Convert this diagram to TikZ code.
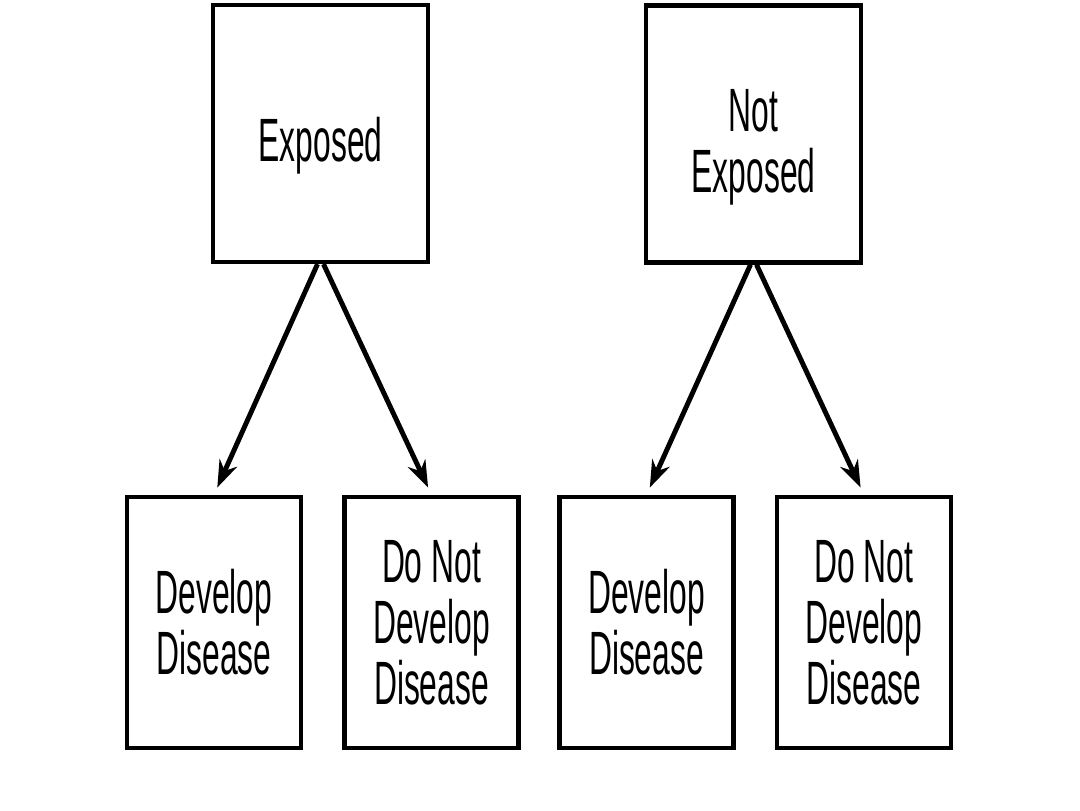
\documentclass[tikz,border=0pt]{standalone}
\usepackage{fontspec}
\usepackage{tikz}
\usetikzlibrary{arrows.meta}
\newfontfamily\boxfont[FakeStretch=0.52]{Liberation Sans}
\tikzset{
	group/.style={draw,line width=1.2pt,fill=white,minimum width=2.15cm,minimum height=2.57cm,inner sep=0pt},
	outcome/.style={group,minimum width=1.74cm,minimum height=2.51cm,align=center,font=\boxfont\fontsize{17.4}{17.4}\selectfont},
	caption/.style={align=center,font=\boxfont\fontsize{17.4}{17.4}\selectfont},
	split/.style={->,>={Stealth[length=0.27cm,width=0.19cm]},line width=1.4pt,shorten >=0.08cm}
}
\begin{document}
\begin{tikzpicture}
	\useasboundingbox (0,0) rectangle (10.8,8.1);
	\node[group] (exp) at (3.205,6.765) {};
	\node[caption] at ([yshift=-0.12cm]exp.center) {Exposed};
	\node[group] (notexp) at (7.535,6.76) {};
	\node[caption] at ([yshift=-0.13cm]notexp.center) {Not\\Exposed};
	
	%outcomes
	\node[outcome] (devA) at (2.14,1.875) {Develop\\Disease};
	\node[outcome] (nodevA) at (4.315,1.875) {Do Not\\Develop\\Disease};
	\node[outcome] (devB) at (6.465,1.875) {Develop\\Disease};
	\node[outcome] (nodevB) at (8.64,1.875) {Do Not\\Develop\\Disease};
	
	\draw[split] ([xshift=-0.03cm]exp.south) -- (devA.north);
	\draw[split] ([xshift=0.03cm]exp.south) -- (nodevA.north);
	\draw[split] ([xshift=-0.03cm]notexp.south) -- (devB.north);
	\draw[split] ([xshift=0.03cm]notexp.south) -- (nodevB.north);
\end{tikzpicture}
\end{document}
